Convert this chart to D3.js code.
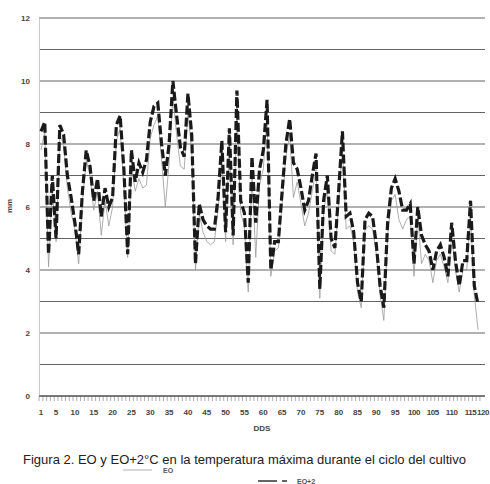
<!DOCTYPE html>
<html>
<head>
<meta charset="utf-8">
<script src="https://cdn.jsdelivr.net/npm/d3@7"></script>
<style>
  body { margin: 0; background: #fff; }
  text { font-family: "Liberation Sans", Arial, sans-serif; fill: #333; }
</style>
</head>
<body>
<svg width="490" height="484"></svg>
<script>
// days after sowing (DDS)
var days = d3.range(1, 118);

// EO+2 (thick dashed series)
var eo2 = [
    8.4, 8.7, 4.5, 7.0, 5.0, 8.6, 8.3, 7.0, 6.3, 5.5,
    4.5, 6.5, 7.8, 7.3, 6.2, 6.9, 5.7, 6.6, 6.0, 6.3,
    8.6, 8.9, 7.2, 4.5, 7.8, 6.8, 7.4, 7.1, 7.5, 8.7,
    9.2, 9.3, 8.0, 7.0, 8.0, 10.0, 8.9, 7.9, 7.6, 9.6,
    8.3, 4.2, 6.1, 5.6, 5.4, 5.3, 5.3, 6.3, 8.1, 5.2,
    8.5, 5.1, 9.7, 6.2, 5.8, 3.6, 7.6, 5.5, 7.2, 7.8,
    9.4, 4.0, 4.9, 4.9, 6.5, 8.0, 8.8, 7.4, 7.2, 6.6,
    5.9, 6.2, 7.0, 7.7, 3.4, 6.2, 7.0, 5.0, 4.7, 6.5,
    8.4, 5.7, 5.8, 5.2, 3.6, 3.0, 5.6, 5.8, 5.7, 4.8,
    3.5, 2.8, 5.5, 6.6, 6.9, 6.5, 5.9, 5.9, 6.1, 4.2,
    6.0, 5.1, 4.8, 4.6, 4.0, 4.6, 4.8, 4.4, 3.8, 5.5,
    4.3, 3.5, 4.3, 4.3, 6.2, 3.5, 2.9
];

// EO (thin grey series)
var eo = [
    7.8, 8.4, 4.1, 6.6, 4.9, 8.3, 8.0, 6.6, 5.8, 5.3,
    4.2, 6.2, 7.5, 7.0, 5.9, 6.5, 5.1, 6.2, 5.4, 6.0,
    8.1, 8.5, 6.7, 4.4, 7.3, 6.5, 6.9, 6.6, 6.7, 8.2,
    8.6, 8.9, 7.5, 6.0, 7.4, 9.5, 8.3, 7.3, 7.2, 9.0,
    7.8, 4.0, 5.8, 5.2, 4.9, 4.8, 4.9, 5.9, 7.6, 4.9,
    8.0, 4.8, 9.2, 5.8, 5.4, 3.3, 7.1, 4.4, 6.7, 7.2,
    8.9, 3.8, 4.6, 4.7, 6.1, 7.6, 8.3, 6.3, 6.8, 6.1,
    5.4, 5.8, 6.5, 7.2, 3.1, 5.8, 6.6, 4.6, 4.5, 6.1,
    7.9, 5.3, 5.4, 4.9, 3.3, 2.8, 5.3, 5.4, 5.3, 4.5,
    3.2, 2.4, 5.1, 6.2, 6.4, 5.6, 5.3, 5.6, 5.7, 3.8,
    5.7, 4.2, 4.5, 4.3, 3.6, 4.3, 4.5, 4.1, 3.6, 5.1,
    4.0, 3.3, 4.0, 4.0, 5.8, 3.2, 2.1
];

var xTickLabels = [1, 5, 10, 15, 20, 25, 30, 35, 40, 45, 50, 55, 60, 65, 70, 75, 80, 85, 90, 95, 100, 105, 110, 115, 120];
var yTickLabels = [0, 2, 4, 6, 8, 10, 12];
var gridValues = d3.range(0, 13);

var svg = d3.select("svg");

var xScale = d3.scaleLinear().domain([1, 100]).range([41, 414]);
var yScale = d3.scaleLinear().domain([0, 12]).range([396, 18]);

// Grid lines
svg.append("g")
    .selectAll("line")
    .data(gridValues)
    .join("line")
    .attr("x1", 39)
    .attr("x2", 485)
    .attr("y1", d => yScale(d))
    .attr("y2", d => yScale(d))
    .style("stroke", "#4a4a4a")
    .style("stroke-width", 1.2)
    .style("opacity", 0.85);

// Y axis
var yAxis = d3.axisLeft(yScale)
    .tickValues(yTickLabels)
    .tickSize(0)
    .tickPadding(9)
    .tickFormat(d3.format("d"));

svg.append("g")
    .attr("transform", "translate(39,0)")
    .call(yAxis)
    .call(g => g.select(".domain").style("stroke", "#ccc"))
    .call(g => g.selectAll("text")
        .style("font-size", "8px")
        .style("font-weight", "bold")
        .style("fill", "#444"));

// X axis (a tick for every day)
svg.append("g")
    .selectAll("line")
    .data(d3.range(0.5, 118.5, 1))
    .join("line")
    .attr("x1", d => xScale(d))
    .attr("x2", d => xScale(d))
    .attr("y1", 396)
    .attr("y2", 401)
    .style("stroke", "#777")
    .style("stroke-width", 0.6);

svg.append("line")
    .attr("x1", 39)
    .attr("x2", 485)
    .attr("y1", 396)
    .attr("y2", 396)
    .style("stroke", "#444")
    .style("stroke-width", 1.2);

// 3-digit labels are packed tight, the last one sits at the edge
svg.append("g")
    .selectAll("text")
    .data(xTickLabels)
    .join("text")
    .attr("x", d => Math.min(xScale(d), 483))
    .attr("y", 415)
    .attr("text-anchor", "middle")
    .style("font-size", "8px")
    .style("font-weight", "bold")
    .style("letter-spacing", d => d >= 100 ? "-0.4px" : null)
    .style("fill", "#444")
    .text(d => d);

// Axis titles
svg.append("text")
    .attr("x", 262)
    .attr("y", 431)
    .attr("text-anchor", "middle")
    .style("font-size", "8px")
    .style("font-weight", "bold")
    .style("fill", "#444")
    .text("DDS");

svg.append("text")
    .attr("transform", "translate(12,206) rotate(-90)")
    .attr("text-anchor", "middle")
    .style("font-size", "8px")
    .style("font-weight", "bold")
    .style("fill", "#444")
    .text("mm");

// Series lines
var line = d3.line()
    .x((d, i) => xScale(days[i]))
    .y(d => yScale(d));

svg.append("path")
    .attr("d", line(eo))
    .attr("fill", "none")
    .style("stroke", "#999")
    .style("stroke-width", 0.8);

svg.append("path")
    .attr("d", line(eo2))
    .attr("fill", "none")
    .style("stroke", "#1a1a1a")
    .style("stroke-width", 3.2)
    .style("stroke-dasharray", "9,3");

// Caption
svg.append("text")
    .attr("x", 23)
    .attr("y", 464)
    .attr("textLength", 443)
    .attr("lengthAdjust", "spacingAndGlyphs")
    .style("font-size", "13px")
    .style("fill", "#222")
    .text("Figura 2. EO y EO+2°C en la temperatura máxima durante el ciclo del cultivo");

// Legend
svg.append("line")
    .attr("x1", 123).attr("x2", 152)
    .attr("y1", 470).attr("y2", 470)
    .style("stroke", "#999")
    .style("stroke-width", 0.8);

svg.append("text")
    .attr("x", 163).attr("y", 473)
    .style("font-size", "7px")
    .style("font-weight", "bold")
    .style("fill", "#555")
    .text("EO");

svg.append("line")
    .attr("x1", 258).attr("x2", 287)
    .attr("y1", 481).attr("y2", 481)
    .style("stroke", "#333")
    .style("stroke-width", 1.5)
    .style("stroke-dasharray", "19,5,5,0");

svg.append("text")
    .attr("x", 297).attr("y", 484)
    .style("font-size", "7px")
    .style("font-weight", "bold")
    .style("fill", "#555")
    .text("EO+2");
</script>
</body>
</html>
